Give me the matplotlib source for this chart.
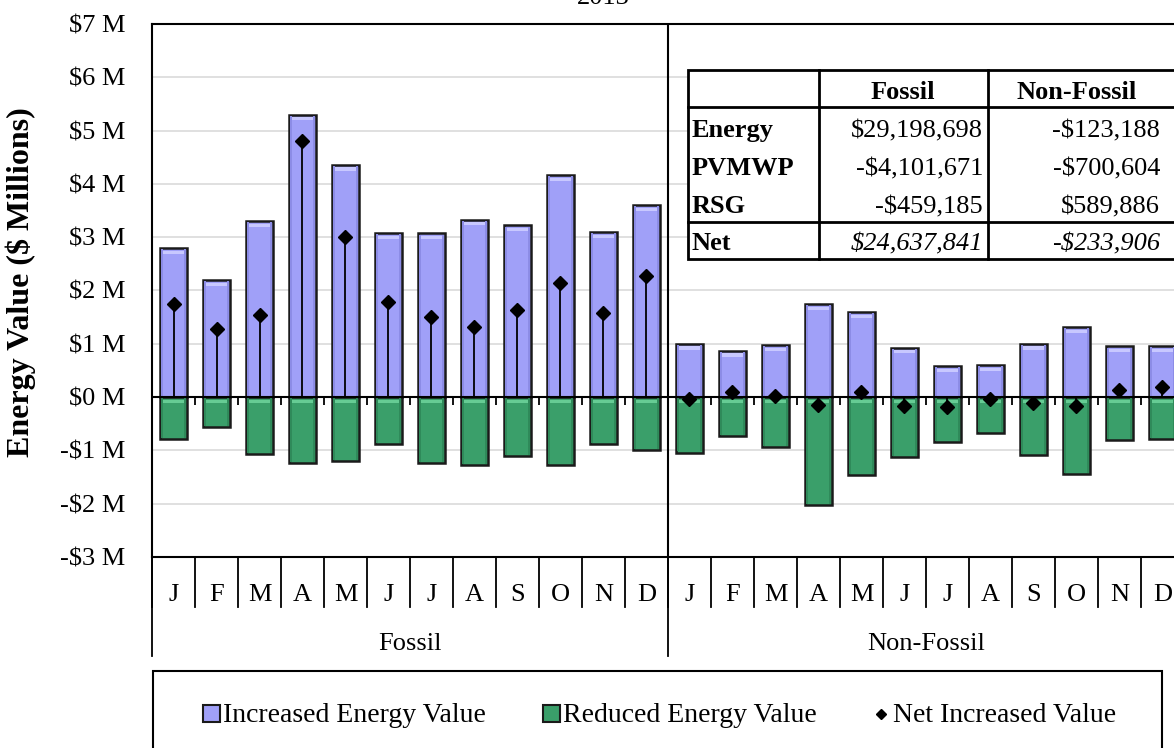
import numpy as np
import matplotlib
matplotlib.use("Agg")
import matplotlib.pyplot as plt
from matplotlib.patches import Rectangle
from matplotlib.transforms import blended_transform_factory
from matplotlib.ticker import FuncFormatter, MultipleLocator

plt.rcParams['font.family'] = ['Liberation Serif', 'DejaVu Serif']

# ---------------- data ----------------
months = ["J", "F", "M", "A", "M", "J", "J", "A", "S", "O", "N", "D"]
groups = ["Fossil", "Non-Fossil"]
fossil_increased = [2.80, 2.20, 3.30, 5.30, 4.36, 3.08, 3.07, 3.33, 3.22, 4.17, 3.09, 3.60]
fossil_reduced = [-0.78, -0.56, -1.07, -1.24, -1.20, -0.88, -1.24, -1.28, -1.11, -1.27, -0.88, -1.00]
fossil_net = [1.75, 1.28, 1.54, 4.80, 3.00, 1.79, 1.50, 1.32, 1.63, 2.15, 1.57, 2.27]
nonfossil_increased = [1.00, 0.87, 0.975, 1.745, 1.59, 0.93, 0.58, 0.60, 1.00, 1.31, 0.95, 0.96]
nonfossil_reduced = [-1.04, -0.73, -0.93, -2.02, -1.46, -1.12, -0.84, -0.67, -1.08, -1.45, -0.81, -0.78]
nonfossil_net = [-0.03, 0.09, 0.03, -0.14, 0.09, -0.17, -0.18, -0.03, -0.11, -0.16, 0.14, 0.19]

table_cols = ["Fossil", "Non-Fossil"]
table_rows = ["Energy", "PVMWP", "RSG", "Net"]
table_fossil = ["$29,198,698", "-$4,101,671", "-$459,185", "$24,637,841"]
table_nonfossil = ["-$123,188", "-$700,604", "$589,886", "-$233,906"]
title = "2013"
ylabel = "Energy Value ($ Millions)"
legend_labels = ["Increased Energy Value", "Reduced Energy Value", "Net Increased Value"]

# ---------------- styles ----------------
C_INC = '#A0A0F8'
C_INC_HI = '#C8C8FF'
C_INC_SIDE = '#8C8CE6'
C_RED = '#3A9F6A'
C_RED_HI = '#66CC94'
C_RED_SIDE = '#2F8A5A'
EDGE = '#1a1a1a'
FS = 19

W, H = 1174, 748
fig = plt.figure(figsize=(W / 100, H / 100), dpi=100)
L, R, T, B = 152, 1184, 24, 557
ax = fig.add_axes([L / W, 1 - B / H, (R - L) / W, (B - T) / H])
ah = B - T

n = len(months)
x = np.arange(2 * n)
inc = np.array(fossil_increased + nonfossil_increased)
red = np.array(fossil_reduced + nonfossil_reduced)
net = np.array(fossil_net + nonfossil_net)

ax.set_xlim(-0.5, 2 * n - 0.5)
ax.set_ylim(-3, 7)
ax.yaxis.set_major_locator(MultipleLocator(1))


def fmt(v, p):
    iv = int(round(v))
    return f"${iv} M" if iv >= 0 else f"-${-iv} M"


ax.yaxis.set_major_formatter(FuncFormatter(fmt))
ax.tick_params(axis='y', length=0, pad=19, labelsize=FS)
ax.set_xticks([])
ax.grid(axis='y', color='#DDDDDD', lw=1.3, zorder=0)
ax.set_axisbelow(True)
for s in ['left', 'top', 'bottom']:
    ax.spines[s].set_linewidth(1.5)
    ax.spines[s].set_color('black')
ax.spines['right'].set_visible(False)
ax.axvline(n - 0.5, color='black', lw=1.5, zorder=1)

bw = 0.62
ax.bar(x, inc, bw, color=C_INC, edgecolor=EDGE, lw=1.8, zorder=2)
ax.bar(x, red, bw, color=C_RED, edgecolor=EDGE, lw=1.8, zorder=2)
# bevel look
sw = 0.05
for off in (-(bw / 2 - sw / 2 - 0.02), (bw / 2 - sw / 2 - 0.02)):
    ax.bar(x + off, inc - 0.04, sw, bottom=0.02, color=C_INC_SIDE, lw=0, zorder=2.2)
    ax.bar(x + off, red + 0.04, sw, bottom=-0.02, color=C_RED_SIDE, lw=0, zorder=2.2)
ax.bar(x, 0.06, bw * 0.8, bottom=inc - 0.11, color=C_INC_HI, lw=0, zorder=2.4)
ax.bar(x, 0.06, bw * 0.8, bottom=-0.11, color=C_RED_HI, lw=0, zorder=2.4)

ax.axhline(0, color='black', lw=1.5, zorder=3)
ax.vlines(np.arange(-0.5, 2 * n, 1), 0, -0.15, color='black', lw=1.3, zorder=3)

ax.vlines(x, 0, net, color='black', lw=1.3, zorder=4)
ax.plot(x, net, 'D', color='black', ms=7, ls='none', zorder=5)

# category axis
trans = blended_transform_factory(ax.transData, ax.transAxes)
for i, m in enumerate(months * 2):
    ax.text(i, -44 / ah, m, transform=trans, ha='center', va='baseline', fontsize=FS, clip_on=False)
for b in np.arange(-0.5, 2 * n, 1):
    ax.plot([b, b], [0, -50 / ah], transform=trans, color='black', lw=1.3, clip_on=False)
for b in [-0.5, n - 0.5, 2 * n - 0.5]:
    ax.plot([b, b], [0, -99 / ah], transform=trans, color='black', lw=1.3, clip_on=False)
for g, name in enumerate(groups):
    ax.text(g * n + (n - 1) / 2, -93 / ah, name, transform=trans, ha='center', va='baseline',
            fontsize=FS, clip_on=False)

fig.text(21 / W, 1 - 282 / H, ylabel, rotation=90, ha='center', va='center', fontsize=23,
         fontweight='bold')

# overlay in pixel coords
ov = fig.add_axes([0, 0, 1, 1], zorder=10)
ov.set_xlim(0, W)
ov.set_ylim(H, 0)
ov.axis('off')
ov.patch.set_alpha(0)

ov.text(603, 4, title, ha='center', va='baseline', fontsize=FS)

# table
x0, x1, x2, x3 = 688, 819, 988, 1185
y0, y1, y2, y3 = 70, 107, 222, 259
ov.add_patch(Rectangle((x0, y0), x3 - x0, y3 - y0, facecolor='white', edgecolor='black', lw=2))
ov.plot([x0, x3], [y1, y1], color='black', lw=2)
ov.plot([x0, x3], [y2, y2], color='black', lw=2)
ov.plot([x1, x1], [y0, y3], color='black', lw=2)
ov.plot([x2, x2], [y0, y3], color='black', lw=2)
ov.text(903, 99, table_cols[0], ha='center', va='baseline', fontsize=FS, fontweight='bold')
ov.text(1077, 99, table_cols[1], ha='center', va='baseline', fontsize=FS, fontweight='bold')
row_base = [137, 175, 213, 250]
for i, r in enumerate(table_rows):
    style = 'italic' if r == "Net" else 'normal'
    ov.text(692, row_base[i], r, ha='left', va='baseline', fontsize=FS, fontweight='bold')
    ov.text(983, row_base[i], table_fossil[i], ha='right', va='baseline', fontsize=FS, style=style)
    ov.text(1160, row_base[i], table_nonfossil[i], ha='right', va='baseline', fontsize=FS, style=style)

# legend
ov.add_patch(Rectangle((153, 671), 1162 - 153, 100, facecolor='white', edgecolor='black', lw=1.5))
ov.add_patch(Rectangle((203, 705), 17, 17, facecolor=C_INC, edgecolor=EDGE, lw=1.5))
ov.add_patch(Rectangle((543, 705), 17, 17, facecolor=C_RED, edgecolor=EDGE, lw=1.5))
ov.plot([881], [714], 'D', color='black', ms=5)
ov.text(223, 722, legend_labels[0], ha='left', va='baseline', fontsize=20)
ov.text(563, 722, legend_labels[1], ha='left', va='baseline', fontsize=20)
ov.text(893, 722, legend_labels[2], ha='left', va='baseline', fontsize=20)

fig.savefig("out.png", dpi=100)
